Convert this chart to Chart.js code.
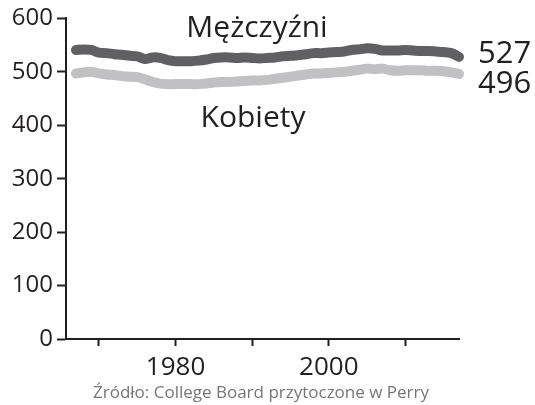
<!DOCTYPE html>
<html lang="pl">
<head>
  <meta charset="UTF-8">
  <title>Mężczyźni i Kobiety</title>
  <script src="https://cdn.jsdelivr.net/npm/chart.js"></script>
  <style>
    html, body { margin: 0; padding: 0; background: #fff; }
    #wrap { width: 535px; height: 405px; position: relative; }
  </style>
</head>
<body>
  <div id="wrap"><canvas id="chart" width="535" height="405"></canvas></div>

  <script>
    const years = [];
    for (let y = 1967; y <= 2017; y++) years.push(y);

    const men = [
      541, 542, 541, 536, 535, 533, 532, 530, 529, 524,
      527, 526, 522, 520, 520, 520, 521, 523, 526, 527,
      527, 526, 527, 526, 525, 526, 527, 529, 530, 531,
      533, 535, 535, 536, 537, 538, 541, 542, 544, 543,
      540, 540, 540, 541, 540, 539, 539, 538, 537, 535,
      528
    ];
    const women = [
      497, 499, 500, 497, 495, 494, 492, 491, 490, 486,
      481, 478, 477, 477, 477, 477, 477, 478, 480, 481,
      481, 482, 483, 484, 484, 485, 487, 489, 491, 493,
      495, 497, 497, 498, 499, 500, 502, 504, 506, 505,
      506, 503, 502, 503, 503, 503, 502, 502, 501, 499,
      496
    ];
    const yTicks = [0, 100, 200, 300, 400, 500, 600];
    const xLabelled = [1980, 2000];

    const INK = '#231f20';
    const FONT = '"Open Sans", sans-serif';

    const labels = {
      id: 'labels',
      afterDraw(chart) {
        const c = chart.ctx;
        c.save();
        c.fillStyle = INK;
        c.textBaseline = 'alphabetic';
        c.font = '30px ' + FONT;
        c.textAlign = 'center';
        c.fillText('Mężczyźni', 257, 37);
        c.fillText('Kobiety', 253, 127);
        c.textAlign = 'left';
        c.font = '31px ' + FONT;
        c.fillText('527', 478, 63);
        c.fillText('496', 478, 93);
        c.fillStyle = '#767676';
        c.font = '17px ' + FONT;
        c.textAlign = 'center';
        c.fillText('Źródło: College Board przytoczone w Perry', 261, 398);
        c.restore();
      }
    };

    const pts = arr => arr.map((v, i) => ({ x: years[i], y: v }));

    new Chart(document.getElementById('chart'), {
      type: 'line',
      data: {
        datasets: [
          { label: 'Mężczyźni', data: pts(men), borderColor: '#606062' },
          { label: 'Kobiety', data: pts(women), borderColor: '#c1c1c3' }
        ]
      },
      options: {
        responsive: false,
        animation: false,
        layout: { padding: { left: 0, right: 76, top: 18, bottom: 0 } },
        elements: {
          point: { radius: 0 },
          line: { borderWidth: 10, borderCapStyle: 'round', borderJoinStyle: 'round', tension: 0.3 }
        },
        datasets: { line: { clip: false } },
        plugins: { legend: { display: false }, tooltip: { enabled: false } },
        scales: {
          x: {
            type: 'linear',
            min: 1965.7,
            max: 2017,
            afterFit: s => { s.height = 66; },
            border: { display: true, color: INK, width: 2 },
            grid: { display: true, drawOnChartArea: false, drawTicks: true, tickLength: 7, tickColor: INK, tickWidth: 2 },
            ticks: {
              stepSize: 10,
              includeBounds: false,
              autoSkip: false,
              maxRotation: 0,
              color: INK,
              font: { family: FONT, size: 26 },
              padding: 6,
              callback: v => xLabelled.includes(v) ? String(v) : ''
            }
          },
          y: {
            min: 0,
            max: 600,
            afterFit: s => { s.width = 66; },
            afterBuildTicks: s => { s.ticks = yTicks.map(v => ({ value: v })); },
            border: { display: true, color: INK, width: 2 },
            grid: { display: true, drawOnChartArea: false, drawTicks: true, tickLength: 9, tickColor: INK, tickWidth: 2 },
            ticks: {
              color: INK,
              font: { family: FONT, size: 24 },
              padding: 4
            }
          }
        }
      },
      plugins: [labels]
    });
  </script>
</body>
</html>
